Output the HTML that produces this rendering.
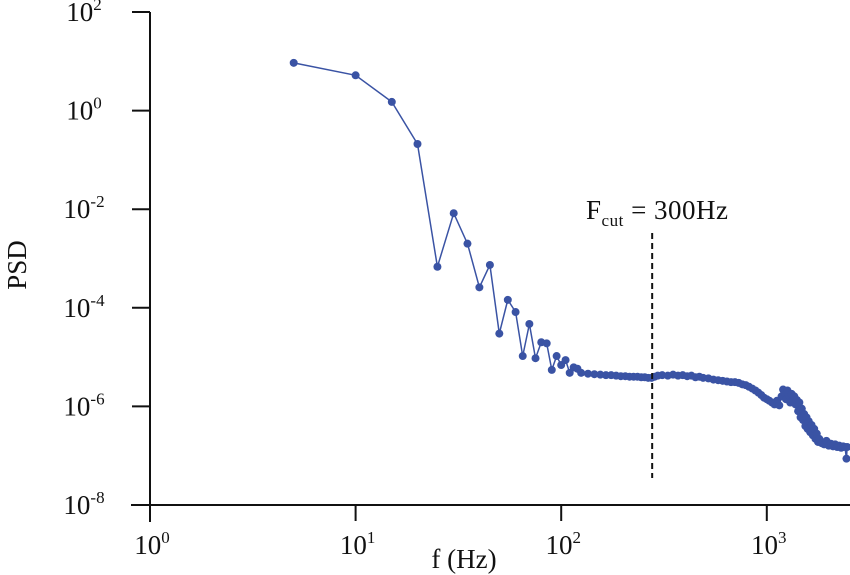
<!DOCTYPE html>
<html><head><meta charset="utf-8"><style>
html,body{margin:0;padding:0;background:#fff;width:850px;height:575px;overflow:hidden}
svg text{font-family:"Liberation Serif",serif;fill:#111}
</style></head><body>
<svg id="chart" width="850" height="575" viewBox="0 0 850 575" xmlns="http://www.w3.org/2000/svg">
<g id="axes"></g>
<g id="series"></g>
<g id="annot"></g>
</svg>
<script>
const freqs = [5,10,15,20,25,30,35,40,45,50,55,60,65,70,75,80,85,90,95,100,105,110,115,120,
125,135,145,155,165,175,185,195,205,215,225,235,245,255,265,275,285,295,
310,330,350,370,390,410,430,450,470,490,520,550,580,610,640,670,700,730,760,790,820,850,880,910,940,970,1000,1030,1060,1090,1120,1150,
1180,1200,1220,1240,1260,1280,1300,1320,1340,1360,1380,1400,1420,1440,1460,1480,1500,1520,1540,1560,1580,1600,1625,1650,1675,1700,1725,1750,1775,1800,1850,1900,1950,2000,2050,2100,2150,2200,2250,2300,2350,2400,2440,2460];
const psd = [9.3,5.2,1.5,0.21,6.8e-4,8.3e-3,2e-3,2.6e-4,7.4e-4,3e-5,1.45e-4,8.2e-5,1.05e-5,4.7e-5,9.5e-6,2e-5,1.9e-5,5.5e-6,1.05e-5,6.9e-6,8.7e-6,4.8e-6,6.2e-6,5.8e-6,
4.8e-6,4.6e-6,4.5e-6,4.4e-6,4.3e-6,4.3e-6,4.2e-6,4.1e-6,4.1e-6,4.0e-6,4.0e-6,4.0e-6,3.9e-6,3.9e-6,3.8e-6,3.8e-6,4.0e-6,4.2e-6,
4.3e-6,4.2e-6,4.4e-6,4.2e-6,4.3e-6,4.1e-6,4.2e-6,3.9e-6,4.0e-6,3.8e-6,3.7e-6,3.5e-6,3.4e-6,3.3e-6,3.2e-6,3.1e-6,3.1e-6,3.0e-6,2.8e-6,2.7e-6,2.5e-6,2.3e-6,2.1e-6,1.9e-6,1.7e-6,1.5e-6,1.4e-6,1.3e-6,1.2e-6,1.1e-6,1.3e-6,1.05e-6,
1.6e-6,2.2e-6,1.9e-6,1.4e-6,2.1e-6,1.7e-6,1.2e-6,1.8e-6,1.3e-6,1.6e-6,1.1e-6,1.35e-6,8e-7,1.2e-6,6e-7,9e-7,5.3e-7,7e-7,4e-7,6e-7,3.5e-7,5e-7,3e-7,4.2e-7,2.6e-7,3.5e-7,2.2e-7,2.8e-7,1.9e-7,2.2e-7,1.8e-7,1.7e-7,2e-7,1.6e-7,1.75e-7,1.55e-7,1.7e-7,1.5e-7,1.6e-7,1.45e-7,1.55e-7,1.5e-7,8.7e-8,1.5e-7];
const xTicks = [0,1,2,3];
const yTicks = [2,0,-2,-4,-6,-8];
const cutoff = 277;
const NS='http://www.w3.org/2000/svg';
const X0=150, DEC=205.6, Y0=505, YDEC=49.3;
function xs(f){return X0+DEC*Math.log10(f);}
function ys(v){return Y0-(Math.log10(v)+8)*YDEC;}
function mk(tag,attrs,parent){const e=document.createElementNS(NS,tag);for(const k in attrs)e.setAttribute(k,attrs[k]);parent.appendChild(e);return e;}
const axes=document.getElementById('axes');
let l=mk('line',{x1:131,y1:Y0,x2:850,y2:Y0,stroke:'#111','stroke-width':2},axes);


l=mk('line',{x1:X0,y1:12,x2:X0,y2:522,stroke:'#111','stroke-width':2},axes);


xTicks.forEach(p=>{
  const x=X0+DEC*p;
  const t=mk('line',{x1:x,y1:Y0,x2:x,y2:521,stroke:'#111','stroke-width':2},axes);
  
  
  const tx=mk('text',{x:x+2,y:554,'font-size':27,'text-anchor':'middle'},axes);
  
  
  tx.innerHTML='10<tspan font-size="17" dy="-11">'+p+'</tspan>';
});
yTicks.forEach(p=>{
  const y=Y0-(p+8)*YDEC;
  const t=mk('line',{x1:132,y1:y,x2:X0,y2:y,stroke:'#111','stroke-width':2},axes);
  
  
  const tx=mk('text',{x:84,y:y+9,'font-size':27,'text-anchor':'middle'},axes);
  
  
  tx.innerHTML='10<tspan font-size="17" dy="-11">'+p+'</tspan>';
});
let xt=mk('text',{x:464,y:568,'font-size':27,'text-anchor':'middle'},axes);


xt.textContent='f (Hz)';
let yt=mk('text',{x:0,y:0,'font-size':27,'text-anchor':'middle',transform:'translate(26,265) rotate(-90)'},axes);


yt.textContent='PSD';
const ser=document.getElementById('series');
const pts=freqs.map((f,i)=>xs(f).toFixed(1)+','+ys(psd[i]).toFixed(1)).join(' ');
const pl=mk('polyline',{points:pts,fill:'none',stroke:'#3a53a4','stroke-width':1.5},ser);


freqs.forEach((f,i)=>{
  const c=mk('circle',{cx:xs(f),cy:ys(psd[i]),r:4,fill:'#3a53a4'},ser);
  
  
});
const an=document.getElementById('annot');
const vl=mk('line',{x1:xs(cutoff),y1:233,x2:xs(cutoff),y2:478,stroke:'#111','stroke-width':2,'stroke-dasharray':'6,4'},an);


const at=mk('text',{x:586,y:219,'font-size':27,'letter-spacing':'0.5'},an);


at.innerHTML='F<tspan font-size="17" dy="7">cut</tspan><tspan dy="-7"> = 300Hz</tspan>';
</script>
</body></html>
